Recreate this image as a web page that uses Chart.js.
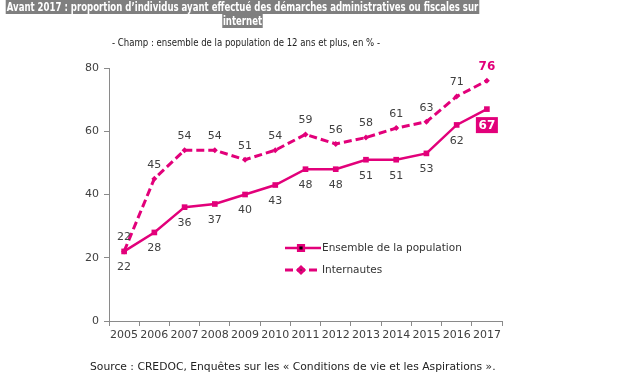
<!DOCTYPE html>
<html>
<head>
<meta charset="utf-8">
<script src="https://cdn.jsdelivr.net/npm/chart.js@4"></script>
<style>
    body { margin: 0; background: #fff; }
    #wrap { position: relative; width: 640px; height: 385px; overflow: hidden; }
    #chart { position: absolute; left: 0; top: 0; }
    #title { position: absolute; left: -200px; top: 0; width: 885px; text-align: center; white-space: nowrap;
             font: bold 12px 'DejaVu Sans Condensed', 'DejaVu Sans', sans-serif; line-height: 14px; transform-origin: 50% 0; }
    #title span { background: #7f7f7f; color: #fff; padding: 0 1px; }
    #subtitle { position: absolute; left: -200px; top: 36px; width: 892px; text-align: center; white-space: nowrap;
                font: 11px 'DejaVu Sans Condensed', 'DejaVu Sans', sans-serif; color: #222; transform-origin: 50% 0; }
    #source { position: absolute; left: 90px; top: 360px;
              font: 10.75px 'DejaVu Sans', sans-serif; color: #222; }
</style>
</head>
<body>
<div id="wrap">
    <canvas id="chart" width="640" height="385"></canvas>
    <div id="title"><span id="t1">Avant 2017 : proportion d’individus ayant effectué des démarches administratives ou fiscales sur</span><br><span>internet</span></div>
    <div id="subtitle"><span id="st">- Champ : ensemble de la population de 12 ans et plus, en % -</span></div>
    <div id="source">Source : CREDOC, Enquêtes sur les « Conditions de vie et les Aspirations ».</div>
</div>
<script>
const years = ['2005', '2006', '2007', '2008', '2009', '2010', '2011', '2012', '2013', '2014', '2015', '2016', '2017'];
const ensemble = [22, 28, 36, 37, 40, 43, 48, 48, 51, 51, 53, 62, 67];
const internautes = [22, 45, 54, 54, 51, 54, 59, 56, 58, 61, 63, 71, 76];
const yTicks = [0, 20, 40, 60, 80];

const pink = '#e2007a';
const grey = '#404040';
const axisGrey = '#8a8a8a';

// squeeze the header lines to the narrow width of the original font
const fit = (boxId, spanId, target) => {
    const w = document.getElementById(spanId).getBoundingClientRect().width;
    document.getElementById(boxId).style.transform = 'scaleX(' + (target / w) + ')';
};
fit('title', 't1', 473);
fit('subtitle', 'st', 268);

// value labels: ensemble below, internautes above, last point highlighted
const valueLabels = {
    id: 'valueLabels',
    afterDatasetsDraw(chart) {
        const ctx = chart.ctx;
        ctx.save();
        ctx.textAlign = 'center';
        ctx.textBaseline = 'middle';
        chart.data.datasets.forEach((ds, i) => {
            const meta = chart.getDatasetMeta(i);
            const below = i === 0;
            meta.data.forEach((pt, j) => {
                const last = j === ds.data.length - 1;
                const y = below ? pt.y + 16 : pt.y - 14;
                const txt = String(ds.data[j]);
                if (last && below) {
                    ctx.font = 'bold 12px "DejaVu Sans"';
                    ctx.fillStyle = pink;
                    ctx.fillRect(pt.x - 11, y - 8, 22, 16);
                    ctx.fillStyle = '#fff';
                    ctx.fillText(txt, pt.x, y + 0.5);
                } else if (last) {
                    ctx.font = 'bold 12px "DejaVu Sans"';
                    ctx.fillStyle = pink;
                    ctx.fillText(txt, pt.x, y);
                } else {
                    ctx.font = '11px "DejaVu Sans"';
                    ctx.fillStyle = grey;
                    ctx.fillText(txt, pt.x, y);
                }
            });
        });
        ctx.restore();
    }
};

// legend drawn as line + marker, like the original
const lineLegend = {
    id: 'lineLegend',
    afterDraw(chart) {
        const ctx = chart.ctx;
        const x0 = chart.chartArea.left + 176;
        let y = chart.chartArea.top + 180;
        ctx.save();
        chart.data.datasets.forEach(ds => {
            ctx.strokeStyle = ds.borderColor;
            ctx.lineWidth = ds.borderWidth;
            ctx.setLineDash(ds.borderDash || []);
            ctx.beginPath();
            ctx.moveTo(x0, y);
            ctx.lineTo(x0 + 36, y);
            ctx.stroke();
            ctx.setLineDash([]);
            Chart.helpers.drawPoint(ctx, {
                pointStyle: ds.pointStyle, radius: ds.pointRadius, borderWidth: 1
            }, x0 + 16, y);
            ctx.fillStyle = '#333';
            ctx.font = '10.5px "DejaVu Sans"';
            ctx.textBaseline = 'middle';
            ctx.fillText(ds.label, x0 + 37, y);
            y += 22;
        });
        ctx.restore();
    }
};

new Chart(document.getElementById('chart'), {
    type: 'line',
    data: {
        labels: years,
        datasets: [{
            label: 'Ensemble de la population',
            data: ensemble,
            borderColor: pink,
            backgroundColor: pink,
            borderWidth: 2.5,
            pointStyle: 'rect',
            pointRadius: 4,
            pointBorderWidth: 0,
        }, {
            label: 'Internautes',
            data: internautes,
            borderColor: pink,
            backgroundColor: pink,
            borderWidth: 3,
            borderDash: [8, 4],
            pointStyle: 'rectRot',
            pointRadius: 3,
            pointBorderWidth: 0,
        }]
    },
    options: {
        responsive: false,
        animation: false,
        layout: { padding: { left: 0, top: 68, right: 138, bottom: 36 } },
        plugins: { legend: { display: false }, tooltip: { enabled: false } },
        scales: {
            x: {
                offset: true,
                afterFit: s => { s.height = 28; },
                border: { color: axisGrey, width: 1 },
                grid: { offset: true, drawOnChartArea: false, drawTicks: true, tickLength: 5, color: axisGrey },
                ticks: { color: grey, font: { family: 'DejaVu Sans', size: 11 }, padding: 3, maxRotation: 0, autoSkip: false }
            },
            y: {
                min: 0,
                max: 80,
                afterFit: s => { s.width = 109; },
                afterBuildTicks: s => { s.ticks = yTicks.map(v => ({ value: v })); },
                border: { color: axisGrey, width: 1 },
                grid: { drawOnChartArea: false, drawTicks: true, tickLength: 5, color: axisGrey },
                ticks: { color: grey, font: { family: 'DejaVu Sans', size: 11 }, padding: 5 }
            }
        }
    },
    plugins: [valueLabels, lineLegend]
});
</script>
</body>
</html>
